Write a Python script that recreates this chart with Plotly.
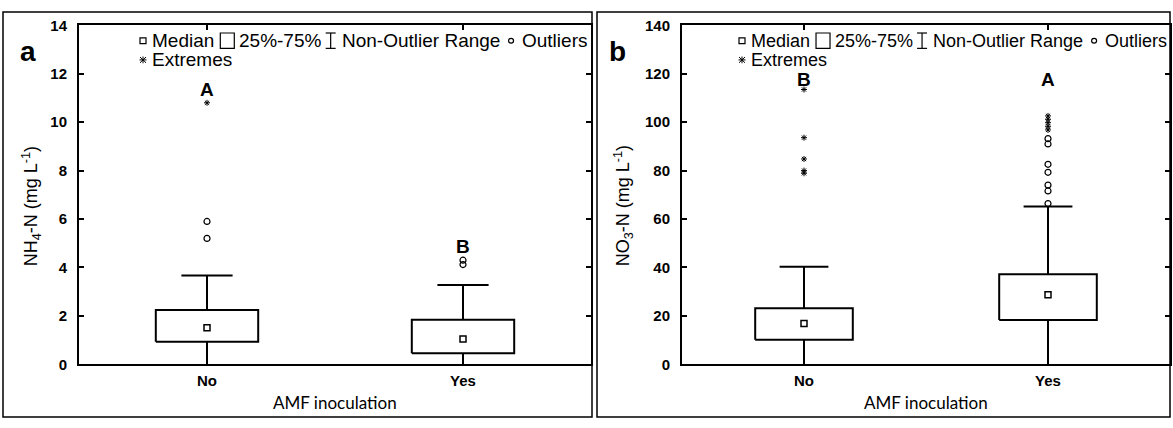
import plotly.graph_objects as go

W, H = 1173, 428

categories = ["No", "Yes"]

# Panel a: NH4-N (mg L-1)
a_q1 = [0.93, 0.46]
a_median = [1.51, 1.04]
a_q3 = [2.24, 1.84]
a_lo = [0.0, 0.0]
a_hi = [3.67, 3.28]
a_outliers = [[5.9, 5.2], [4.3, 4.12]]
a_extremes = [[10.8], []]
a_letters = ["A", "B"]
a_letter_y = [11.35, 4.85]

# Panel b: NO3-N (mg L-1)
b_q1 = [10.1, 18.3]
b_median = [16.9, 28.7]
b_q3 = [23.2, 37.2]
b_lo = [0.0, 0.0]
b_hi = [40.3, 65.2]
b_outliers = [[], [93.2, 91.0, 82.6, 79.3, 74.0, 71.6, 66.4]]
b_extremes = [[113.5, 93.6, 84.8, 80.0, 78.9], [102.6, 101.2, 99.8, 98.3, 96.8]]
b_letters = ["B", "A"]
b_letter_y = [117.5, 117.5]

a_yticks = [0, 2, 4, 6, 8, 10, 12, 14]
b_yticks = [0, 20, 40, 60, 80, 100, 120, 140]

FONT = "Liberation Sans"

ARIAL = {"M": .833, "e": .556, "d": .556, "i": .222, "a": .556, "n": .556, "2": .556,
         "5": .556, "%": .889, "-": .333, "7": .556, "N": .722, "o": .556, "O": .778,
         "u": .556, "t": .278, "l": .222, "r": .333, " ": .278, "R": .722, "g": .556,
         "s": .5, "E": .667, "x": .5, "m": .833}


def tw(s, fs):
    return sum(ARIAL.get(c, .556) for c in s) * fs


def px(x):
    return x / W


def py(y):
    return 1 - y / H


fig = go.Figure()

HW = 0.2   # box half width (category units)
CW = 0.1   # cap half width


def add_panel(xa, ya, q1, med, q3, lo, hi, outl, extr):
    xs, ys = [], []
    for i in range(len(categories)):
        xs += [i - HW, i + HW, i + HW, i - HW, i - HW, None]
        ys += [q1[i], q1[i], q3[i], q3[i], q1[i], None]
        xs += [i, i, None, i - CW, i + CW, None]
        ys += [q3[i], hi[i], None, hi[i], hi[i], None]
        xs += [i, i, None]
        ys += [q1[i], lo[i], None]
    fig.add_trace(go.Scatter(x=xs, y=ys, mode="lines", xaxis=xa, yaxis=ya,
                             line=dict(color="black", width=2), showlegend=False,
                             hoverinfo="skip"))
    fig.add_trace(go.Scatter(x=list(range(len(categories))), y=med, mode="markers",
                             xaxis=xa, yaxis=ya, showlegend=False,
                             marker=dict(symbol="square-open", size=6, color="black",
                                         line=dict(width=1.5, color="black"))))
    ox, oy = [], []
    for i, vals in enumerate(outl):
        ox += [i] * len(vals)
        oy += vals
    fig.add_trace(go.Scatter(x=ox, y=oy, mode="markers", xaxis=xa, yaxis=ya,
                             showlegend=False,
                             marker=dict(symbol="circle-open", size=6, color="black",
                                         line=dict(width=1.2, color="black"))))
    ex, ey = [], []
    for i, vals in enumerate(extr):
        ex += [i] * len(vals)
        ey += vals
    fig.add_trace(go.Scatter(x=ex, y=ey, mode="markers", xaxis=xa, yaxis=ya,
                             showlegend=False,
                             marker=dict(symbol="asterisk-open", size=5, color="black",
                                         line=dict(width=1, color="#333"))))


add_panel("x", "y", a_q1, a_median, a_q3, a_lo, a_hi, a_outliers, a_extremes)
add_panel("x2", "y2", b_q1, b_median, b_q3, b_lo, b_hi, b_outliers, b_extremes)

A_L, A_R = 79, 591
B_L, B_R = 682, 1170
P_T, P_B = 17, 370

axis_common = dict(showline=True, mirror="ticks", linecolor="black", linewidth=2,
                   ticks="inside", ticklen=5, tickwidth=1.5, tickcolor="black",
                   showgrid=False, zeroline=False,
                   tickfont=dict(family=FONT, size=15, color="black", weight="bold"))

fig.update_layout(
    width=W, height=H, margin=dict(l=0, r=0, t=0, b=0),
    paper_bgcolor="white", plot_bgcolor="white", showlegend=False,
    xaxis=dict(domain=[px(A_L), px(A_R)], range=[-0.5, 1.5], tickvals=[0, 1],
               ticktext=categories, anchor="y", ticklabelstandoff=2, **axis_common),
    yaxis=dict(domain=[py(P_B), py(P_T)], range=[0, 14], tickvals=a_yticks,
               anchor="x", ticklabelstandoff=7, **axis_common),
    xaxis2=dict(domain=[px(B_L), px(B_R)], range=[-0.5, 1.5], tickvals=[0, 1],
                ticktext=categories, anchor="y2", ticklabelstandoff=2, **axis_common),
    yaxis2=dict(domain=[py(P_B), py(P_T)], range=[0, 140], tickvals=b_yticks,
                anchor="x2", ticklabelstandoff=7, **axis_common),
)

ann = []
shapes = []

for i, (t, yv) in enumerate(zip(a_letters, a_letter_y)):
    ann.append(dict(x=i, y=yv, xref="x", yref="y", text=t, showarrow=False,
                    xanchor="center", yanchor="middle",
                    font=dict(family=FONT, size=19, color="black", weight="bold")))
for i, (t, yv) in enumerate(zip(b_letters, b_letter_y)):
    ann.append(dict(x=i, y=yv, xref="x2", yref="y2", text=t, showarrow=False,
                    xanchor="center", yanchor="middle",
                    font=dict(family=FONT, size=19, color="black", weight="bold")))

for x, t in [(28, "a"), (617, "b")]:
    ann.append(dict(x=px(x), y=py(44), xref="paper", yref="paper", text=t, showarrow=False,
                    xanchor="center", yanchor="middle",
                    font=dict(family=FONT, size=28, color="black", weight="bold")))

for x, t in [(31, "NH<sub>4</sub>-N (mg L<sup>-1</sup>)"),
             (623, "NO<sub>3</sub>-N (mg L<sup>-1</sup>)")]:
    ann.append(dict(x=px(x), y=py((P_T + P_B) / 2 + 12), xref="paper", yref="paper",
                    text=t, textangle=-90, showarrow=False,
                    xanchor="center", yanchor="middle",
                    font=dict(family=FONT, size=18, color="black")))

for cx in [(A_L + A_R) / 2, (B_L + B_R) / 2]:
    ann.append(dict(x=px(cx), y=py(410), xref="paper", yref="paper",
                    text="AMF inoculation", showarrow=False,
                    xanchor="center", yanchor="middle",
                    font=dict(family="Lato", size=17, color="black")))


def legend(x0, fs, y1=33, y2=53):
    f = dict(family=FONT, size=fs, color="black")
    line = dict(color="black", width=1.2)

    def text(x, y, s):
        ann.append(dict(x=px(x), y=py(y), xref="paper", yref="paper", text=s,
                        xanchor="left", yanchor="middle", showarrow=False, font=f,
                        borderpad=0))

    shapes.append(dict(type="rect", xref="paper", yref="paper",
                       x0=px(x0 - 3), x1=px(x0 + 3), y0=py(y1 - 3), y1=py(y1 + 3), line=line))
    tx = x0 + 8
    text(tx, y1, "Median")
    tx += tw("Median", fs) + 7
    shapes.append(dict(type="rect", xref="paper", yref="paper",
                       x0=px(tx), x1=px(tx + 14), y0=py(y1 - 8), y1=py(y1 + 8), line=line))
    tx += 18
    text(tx, y1, "25%-75%")
    tx += tw("25%-75%", fs) + 10
    for seg in [(tx - 5, y1 - 8, tx + 5, y1 - 8), (tx - 5, y1 + 8, tx + 5, y1 + 8),
                (tx, y1 - 8, tx, y1 + 8)]:
        shapes.append(dict(type="line", xref="paper", yref="paper",
                           x0=px(seg[0]), y0=py(seg[1]), x1=px(seg[2]), y1=py(seg[3]),
                           line=line))
    tx += 10
    text(tx, y1, "Non-Outlier Range")
    tx += tw("Non-Outlier Range", fs) + 12
    shapes.append(dict(type="circle", xref="paper", yref="paper",
                       x0=px(tx - 2.5), x1=px(tx + 2.5), y0=py(y1 - 2.5), y1=py(y1 + 2.5),
                       line=line))
    tx += 10
    text(tx, y1, "Outliers")
    for dx, dy in [(0, 3.5), (3, 3), (3.5, 0), (3, -3)]:
        shapes.append(dict(type="line", xref="paper", yref="paper",
                           x0=px(x0 - dx), y0=py(y2 - dy), x1=px(x0 + dx), y1=py(y2 + dy),
                           line=dict(color="black", width=1)))
    text(x0 + 8, y2, "Extremes")


legend(143, 19)
legend(742, 18)

shapes.append(dict(type="rect", xref="paper", yref="paper", x0=px(3), x1=px(592),
                   y0=py(425), y1=py(3), line=dict(color="black", width=1.5)))
shapes.append(dict(type="rect", xref="paper", yref="paper", x0=px(597), x1=px(1170),
                   y0=py(425), y1=py(3), line=dict(color="black", width=1.5)))

fig.update_layout(annotations=ann, shapes=shapes)
fig.write_html("out.html")
